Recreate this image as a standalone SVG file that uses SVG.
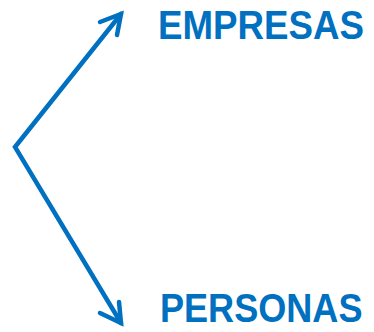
<svg xmlns="http://www.w3.org/2000/svg" width="374" height="332" viewBox="0 0 374 332">
<style>
.lbl{font-family:"Liberation Sans",Arial,sans-serif;font-weight:bold;font-size:41px;fill:#0070C0}
.ln{fill:none;stroke:#0070C0;stroke-width:4.5;stroke-linecap:round;stroke-linejoin:miter}
</style>
<g id="connectors">
<polyline class="ln" points="121,14 15,147 121,323"/>
<polyline class="ln" points="100,22 121,14 117,35"/>
<polyline class="ln" points="119,302 121,323 100,313"/>
</g>
<g id="empresas"><text class="lbl" transform="translate(158,39) scale(0.895,1)">EMPRESAS</text></g>
<g id="personas"><text class="lbl" transform="translate(160,322) scale(0.88,1)">PERSONAS</text></g>
</svg>
